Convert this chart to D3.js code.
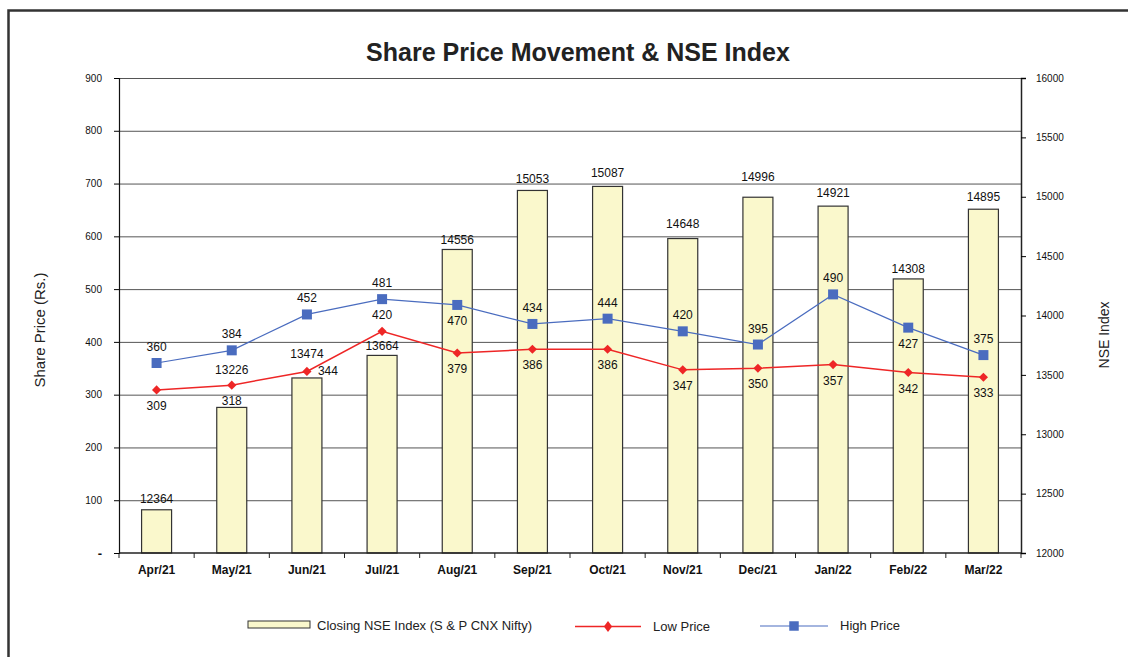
<!DOCTYPE html>
<html>
<head>
<meta charset="utf-8">
<script src="https://cdn.jsdelivr.net/npm/d3@7"></script>
<style>
    body { margin: 0; background: #fff; }
    svg { display: block; font-family: "Liberation Sans", Arial, sans-serif; }
    .grid line { stroke: #555; stroke-width: 1; }
    .axis text { fill: #111; }
    .val { font-size: 12px; fill: #111; }
</style>
</head>
<body>
<svg id="chart"></svg>
<script>
// data
const months = ['Apr/21','May/21','Jun/21','Jul/21','Aug/21','Sep/21','Oct/21','Nov/21','Dec/21','Jan/22','Feb/22','Mar/22'];
const nseClose = [12364, 13226, 13474, 13664, 14556, 15053, 15087, 14648, 14996, 14921, 14308, 14895];
const lowPrice = [309, 318, 344, 420, 379, 386, 386, 347, 350, 357, 342, 333];
const highPrice = [360, 384, 452, 481, 470, 434, 444, 420, 395, 490, 427, 375];
const priceTicks = [0, 100, 200, 300, 400, 500, 600, 700, 800, 900];
const indexTicks = [12000, 12500, 13000, 13500, 14000, 14500, 15000, 15500, 16000];

// where the value labels sit (as in the original chart)
const lowLabelPos = ['below','below','right','above','below','below','below','below','below','below','below','below'];
const highLabelPos = ['above','above','above','above','below','above','above','above','above','above','below','above'];
const barLabelGap = [7, 33, 20, 5, 5, 7, 9, 11, 16, 9, 6, 8];

let graphicopt = {
        width: 1128,
        height: 657,
        margin: {top: 78, right: 107, bottom: 104, left: 119},
        barWidth: 30,
        barcolor: '#faf8cc',
        lowcolor: '#ee2626',
        highcolor: '#4a6cbf',
        widthG: function(){return this.width-this.margin.left-this.margin.right},
        heightG: function(){return this.height-this.margin.top-this.margin.bottom},
    };

const svg = d3.select('#chart')
    .attr('width', graphicopt.width)
    .attr('height', graphicopt.height);

// outer frame (top and left edges visible)
svg.append('path')
    .attr('d', 'M8.5,657 L8.5,10.5 L1128,10.5')
    .attr('fill', 'none')
    .attr('stroke', '#333')
    .attr('stroke-width', 2.5);

svg.append('text')
    .attr('x', 578).attr('y', 61)
    .attr('text-anchor', 'middle')
    .style('font-size', '25px').style('font-weight', 'bold').style('fill', '#222')
    .text('Share Price Movement & NSE Index');

const g = svg.append('g')
    .attr('transform', `translate(${graphicopt.margin.left},${graphicopt.margin.top})`);

const x = d3.scaleBand()
    .domain(months)
    .range([0, graphicopt.widthG()]);
const yL = d3.scaleLinear()
    .domain([0, 900])
    .range([graphicopt.heightG(), 0]);
const yR = d3.scaleLinear()
    .domain([12000, 16000])
    .range([graphicopt.heightG(), 0]);

// gridlines
g.append('g').attr('class', 'grid')
    .selectAll('line')
    .data(priceTicks.filter(d => d > 0))
    .enter().append('line')
    .attr('x1', 0).attr('x2', graphicopt.widthG())
    .attr('y1', d => yL(d) + .5).attr('y2', d => yL(d) + .5);

// bars (right axis)
const bars = g.append('g').attr('class', 'bars')
    .selectAll('rect')
    .data(months.map((m, i) => ({key: m, value: nseClose[i], gap: barLabelGap[i]})))
    .enter();
bars.append('rect')
    .attr('x', d => x(d.key) + (x.bandwidth() - graphicopt.barWidth) / 2)
    .attr('y', d => yR(d.value))
    .attr('width', graphicopt.barWidth)
    .attr('height', d => graphicopt.heightG() - yR(d.value))
    .attr('fill', graphicopt.barcolor)
    .attr('stroke', '#333')
    .attr('stroke-width', 1.2);

// axes
const xAxis = g.append('g')
    .attr('class', 'axis')
    .attr('transform', `translate(0,${graphicopt.heightG()})`);
xAxis.append('line')
    .attr('x1', 0).attr('x2', graphicopt.widthG())
    .attr('stroke', '#222').attr('stroke-width', 1.5);
xAxis.selectAll('.tk')
    .data(d3.range(months.length + 1))
    .enter().append('line')
    .attr('x1', i => i * x.step()).attr('x2', i => i * x.step())
    .attr('y1', 0).attr('y2', 5)
    .attr('stroke', '#222');
xAxis.selectAll('text')
    .data(months)
    .enter().append('text')
    .attr('x', d => x(d) + x.bandwidth() / 2)
    .attr('y', 21)
    .attr('text-anchor', 'middle')
    .style('font-size', '12px').style('font-weight', 'bold')
    .text(d => d);

const leftAxis = d3.axisLeft(yL)
    .tickValues(priceTicks)
    .tickSize(5)
    .tickPadding(12)
    .tickFormat(d => d === 0 ? '-' : d);
g.append('g').attr('class', 'axis left')
    .call(leftAxis)
    .call(s => s.select('.domain').attr('stroke', '#111').attr('stroke-width', 1.2))
    .call(s => s.selectAll('text').style('font-size', '10px').style('font-family', 'inherit'))
    .call(s => s.selectAll('text').filter(d => d === 0).style('font-weight', 'bold').style('font-size', '13px'));

const rightAxis = d3.axisRight(yR)
    .tickValues(indexTicks)
    .tickSize(5)
    .tickPadding(10)
    .tickFormat(d3.format('d'));
g.append('g').attr('class', 'axis right')
    .attr('transform', `translate(${graphicopt.widthG()},0)`)
    .call(rightAxis)
    .call(s => s.select('.domain').attr('stroke', '#222').attr('stroke-width', 1.5))
    .call(s => s.selectAll('text').style('font-size', '10px').style('font-family', 'inherit'));

svg.append('text')
    .attr('transform', 'translate(45,330) rotate(-90)')
    .attr('text-anchor', 'middle')
    .style('font-size', '15px').style('fill', '#222')
    .text('Share Price (Rs.)');
svg.append('text')
    .attr('transform', 'translate(1109,335) rotate(-90)')
    .attr('text-anchor', 'middle')
    .style('font-size', '14px').style('fill', '#222')
    .text('NSE Index');

// bar value labels
bars.append('text')
    .attr('class', 'val')
    .attr('x', d => x(d.key) + x.bandwidth() / 2)
    .attr('y', d => yR(d.value) - d.gap)
    .attr('text-anchor', 'middle')
    .text(d => d.value);

// lines (left axis)
const cx = m => x(m) + x.bandwidth() / 2;
function drawSeries(values, color, width, shape, size, pos){
    const pts = months.map((m, i) => ({key: m, value: values[i], pos: pos[i]}));
    const sg = g.append('g').attr('class', 'series');
    sg.append('path')
        .datum(pts)
        .attr('fill', 'none')
        .attr('stroke', color)
        .attr('stroke-width', width)
        .attr('d', d3.line().x(d => cx(d.key)).y(d => yL(d.value)));
    sg.selectAll('.mk')
        .data(pts)
        .enter().append('path')
        .attr('class', 'mk')
        .attr('transform', d => `translate(${cx(d.key)},${yL(d.value)})` + (shape === 'diamond' ? ' rotate(45)' : ''))
        .attr('d', d3.symbol().type(d3.symbolSquare).size(size))
        .attr('fill', color);
    sg.selectAll('.val')
        .data(pts)
        .enter().append('text')
        .attr('class', 'val')
        .attr('x', d => d.pos === 'right' ? cx(d.key) + 11 : cx(d.key))
        .attr('y', d => yL(d.value) + (d.pos === 'above' ? -12 : d.pos === 'below' ? 20 : 4))
        .attr('text-anchor', d => d.pos === 'right' ? 'start' : 'middle')
        .text(d => d.value);
}
drawSeries(lowPrice, graphicopt.lowcolor, 1.5, 'diamond', 42, lowLabelPos);
drawSeries(highPrice, graphicopt.highcolor, 1.2, 'square', 100, highLabelPos);

// legend
const lg = svg.append('g').attr('class', 'legend').style('font-size', '13px');
lg.append('rect')
    .attr('x', 248).attr('y', 621).attr('width', 62).attr('height', 7)
    .attr('fill', graphicopt.barcolor).attr('stroke', '#333');
lg.append('text').attr('x', 317).attr('y', 630).text('Closing NSE Index (S & P CNX Nifty)').style('fill', '#222');

lg.append('line').attr('x1', 575).attr('x2', 641).attr('y1', 626.5).attr('y2', 626.5)
    .attr('stroke', graphicopt.lowcolor).attr('stroke-width', 1.5);
lg.append('path').attr('transform', 'translate(608,626.5) scale(0.75,1) rotate(45)')
    .attr('d', d3.symbol().type(d3.symbolSquare).size(60)).attr('fill', graphicopt.lowcolor);
lg.append('text').attr('x', 653).attr('y', 631).text('Low Price').style('fill', '#222');

lg.append('line').attr('x1', 760).attr('x2', 828).attr('y1', 626).attr('y2', 626)
    .attr('stroke', graphicopt.highcolor).attr('stroke-width', 1.2);
lg.append('path').attr('transform', 'translate(794,626)')
    .attr('d', d3.symbol().type(d3.symbolSquare).size(90)).attr('fill', graphicopt.highcolor);
lg.append('text').attr('x', 840).attr('y', 630).text('High Price').style('fill', '#222');
</script>
</body>
</html>
